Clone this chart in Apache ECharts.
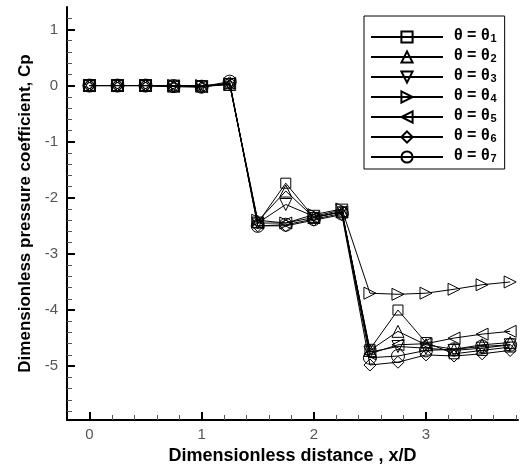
<!DOCTYPE html>
<html><head><meta charset="utf-8">
<script src="https://cdn.jsdelivr.net/npm/echarts@6/dist/echarts.min.js"></script>
<style>html,body{margin:0;padding:0;background:#fff}#c{width:520px;height:464px}</style>
</head><body><div id="c"></div>
<script>
const xValues = [0, 0.25, 0.5, 0.75, 1, 1.25, 1.5, 1.75, 2, 2.25, 2.5, 2.75, 3, 3.25, 3.5, 3.75];
const theta1 = [0, 0, 0, -0.01, -0.01, 0.03, -2.45, -1.74, -2.35, -2.25, -4.70, -4.00, -4.58, -4.78, -4.72, -4.66];
const theta2 = [0, 0, 0, -0.01, -0.01, 0.02, -2.42, -1.88, -2.35, -2.25, -4.72, -4.38, -4.62, -4.70, -4.62, -4.58];
const theta3 = [0, 0, 0, -0.01, -0.02, 0.02, -2.45, -2.12, -2.33, -2.22, -4.75, -4.65, -4.68, -4.72, -4.68, -4.62];
const theta4 = [0, 0, 0, 0, 0, 0.03, -2.40, -2.45, -2.30, -2.20, -3.70, -3.72, -3.70, -3.63, -3.55, -3.50];
const theta5 = [0, 0, 0, -0.01, -0.02, 0.04, -2.45, -2.45, -2.35, -2.25, -4.78, -4.62, -4.60, -4.50, -4.43, -4.38];
const theta6 = [0, 0, 0, -0.02, -0.03, 0.05, -2.50, -2.50, -2.40, -2.30, -4.98, -4.93, -4.80, -4.82, -4.78, -4.72];
const theta7 = [0, 0, 0, -0.01, -0.02, 0.07, -2.50, -2.48, -2.38, -2.28, -4.85, -4.82, -4.72, -4.70, -4.65, -4.62];
const seriesNames = ['θ = θ₁', 'θ = θ₂', 'θ = θ₃', 'θ = θ₄', 'θ = θ₅', 'θ = θ₆', 'θ = θ₇'];
const seriesSubscripts = ['1', '2', '3', '4', '5', '6', '7'];
const xTickLabels = [0, 1, 2, 3];
const yTickLabels = [-5, -4, -3, -2, -1, 0, 1];
const xMinorTicks = [0.2, 0.4, 0.6, 0.8, 1.2, 1.4, 1.6, 1.8, 2.2, 2.4, 2.6, 2.8, 3.2, 3.4, 3.6, 3.8];
const yMinorTicks = [-5.8, -5.6, -5.4, -5.2, -4.8, -4.6, -4.4, -4.2, -3.8, -3.6, -3.4, -3.2, -2.8, -2.6, -2.4, -2.2,
  -1.8, -1.6, -1.4, -1.2, -0.8, -0.6, -0.4, -0.2, 0.2, 0.4, 0.6, 0.8, 1.2];

const allData = [theta1, theta2, theta3, theta4, theta5, theta6, theta7];
const symbols = [
  'rect',
  'path://M5,0 L10,10 L0,10 Z',
  'path://M0,0 L10,0 L5,10 Z',
  'path://M0,0 L10,5 L0,10 Z',
  'path://M10,0 L0,5 L10,10 Z',
  'diamond',
  'circle'
];
const sizes = [10, 12, 12, 12, 12, 12, 13];

const X_MIN = -0.2, X_MAX = 3.82, Y_MIN = -5.96, Y_MAX = 1.4;
const FONT = '"Liberation Sans", Arial, sans-serif';

const series = allData.map((d, i) => ({
  name: seriesNames[i],
  type: 'line',
  xAxisIndex: 0,
  yAxisIndex: 0,
  data: xValues.map((x, j) => [x, d[j]]),
  symbol: symbols[i],
  symbolSize: sizes[i],
  showAllSymbol: true,
  lineStyle: { color: '#000', width: 1 },
  itemStyle: { color: 'rgba(255,255,255,0)', borderColor: '#000', borderWidth: 1 },
  emphasis: { disabled: true },
  animation: false
}));

const tickFont = { fontFamily: FONT, fontSize: 15, color: '#555' };
const titleFont = { fontFamily: FONT, fontSize: 17, fontWeight: 'bold', color: '#000' };

const chart = echarts.init(document.getElementById('c'), null, { renderer: 'canvas' });
chart.setOption({
  backgroundColor: '#fff',
  animation: false,
  grid: { left: 67, right: 2, top: 7, bottom: 44, outerBoundsMode: 'none' },
  legend: {
    orient: 'vertical',
    left: 364,
    top: 16,
    padding: [12, 8, 5, 6],
    itemWidth: 72,
    itemHeight: 14,
    itemGap: 4,
    borderColor: '#000',
    borderWidth: 1,
    backgroundColor: '#fff',
    formatter: function (name) {
      const i = seriesNames.indexOf(name);
      return '{b|θ = θ}{s|' + seriesSubscripts[i] + '}';
    },
    textStyle: {
      fontFamily: FONT, fontSize: 16, fontWeight: 'bold', color: '#000', padding: [0, 0, 0, 6], lineHeight: 14,
      rich: {
        b: { fontFamily: FONT, fontSize: 16, fontWeight: 'bold', color: '#000', lineHeight: 14, verticalAlign: 'bottom' },
        s: { fontFamily: FONT, fontSize: 11, fontWeight: 'bold', color: '#000', lineHeight: 14, verticalAlign: 'bottom', padding: [0, 0, 0, 1] }
      }
    },
    data: seriesNames
  },
  xAxis: [{
    type: 'value', min: X_MIN, max: X_MAX, position: 'bottom',
    name: 'Dimensionless distance , x/D', nameLocation: 'middle', nameGap: 15,
    nameTextStyle: Object.assign({}, titleFont, { fontSize: 18 }),
    axisLine: { show: true, onZero: false, lineStyle: { color: '#000', width: 2 } },
    axisTick: { show: true, inside: true, length: 8, customValues: xTickLabels, lineStyle: { color: '#000', width: 2 } },
    axisLabel: { show: true, customValues: xTickLabels, margin: 7, ...tickFont },
    splitLine: { show: false }
  }, {
    type: 'value', min: X_MIN, max: X_MAX, position: 'bottom',
    axisLine: { show: false, onZero: false },
    axisTick: { show: true, inside: true, length: 5, customValues: xMinorTicks, lineStyle: { color: '#555', width: 1 } },
    axisLabel: { show: false },
    splitLine: { show: false }
  }],
  yAxis: [{
    type: 'value', min: Y_MIN, max: Y_MAX, position: 'left',
    name: 'Dimensionless pressure coefficient, Cp', nameLocation: 'middle', nameGap: 31, nameTextStyle: titleFont,
    axisLine: { show: true, onZero: false, lineStyle: { color: '#000', width: 2 } },
    axisTick: { show: true, inside: true, length: 8, customValues: yTickLabels, lineStyle: { color: '#000', width: 2 } },
    axisLabel: { show: true, customValues: yTickLabels, margin: 9, ...tickFont },
    splitLine: { show: false }
  }, {
    type: 'value', min: Y_MIN, max: Y_MAX, position: 'left',
    axisLine: { show: false, onZero: false },
    axisTick: { show: true, inside: true, length: 5, customValues: yMinorTicks, lineStyle: { color: '#555', width: 1 } },
    axisLabel: { show: false },
    splitLine: { show: false }
  }],
  series: series
});
</script>
</body></html>
